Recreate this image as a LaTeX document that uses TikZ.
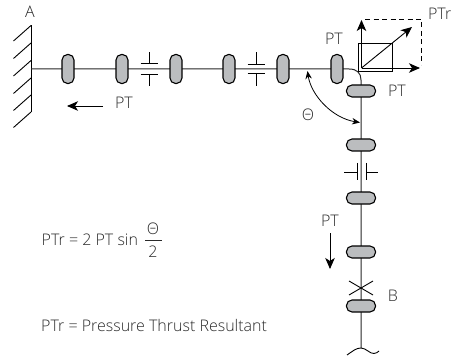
\documentclass[tikz,border=0pt]{standalone}
\usepackage{fontspec}
\setmainfont{Open Sans Light}
\usetikzlibrary{arrows.meta}
\definecolor{padgray}{HTML}{BBBDBF}
\definecolor{txt}{HTML}{2A2A2A}
\tikzset{
  hpad/.style={draw=black,line width=1.1pt,fill=padgray,rounded corners=5.5pt,minimum width=12pt,minimum height=29pt,inner sep=0pt},
  vpad/.style={draw=black,line width=1.1pt,fill=padgray,rounded corners=5.5pt,minimum width=29pt,minimum height=12pt,inner sep=0pt},
  pipe/.style={line width=1pt,black!85},
  thin line/.style={line width=0.9pt,black},
  arr/.style={line width=0.9pt,-{Stealth[length=11pt,width=9.5pt,inset=3pt]}},
  arrs/.style={line width=0.8pt,{Stealth[length=8pt,width=6.5pt]}-{Stealth[length=8pt,width=6.5pt]}},
  lbl/.style={font=\fontsize{16}{18}\selectfont,text=txt,inner sep=0pt},
  lblw/.style={lbl,anchor=west},
}
\begin{document}
\begin{tikzpicture}[x=1pt,y=-1pt]
\useasboundingbox (0,0) rectangle (452,358);
% wall
\coordinate (wtop) at (31,25.5);
\coordinate (wbot) at (31,112);
\coordinate (wm) at (31,69);
\draw[thin line] (wtop) -- (wbot);
\foreach \y in {25.5,43,60.5,78,95,112}{\draw[thin line] (31,\y) -- ++(-17.5,15.5);}
% pipe nodes
\coordinate (bend) at (361,69);
\coordinate (end) at (361,348);
\draw[pipe] (wm) -- (349,69) .. controls (357,69) and (361,73) .. (361,80) -- (end);
\foreach \n/\x in {a/68,b/122,c/176,d/229,e/283,f/337}{\node[hpad] (\n) at (\x,69) {};}
\foreach \n/\y in {g/91,h/145,i/198,j/252,k/306}{\node[vpad] (\n) at (361,\y) {};}
% flanges
\foreach \x/\t/\u in {149/63/74,256/64/73}{
  \draw[thin line] (\x-8.5,\t) -- (\x+8.5,\t) (\x,\t) -- (\x,52);
  \draw[thin line] (\x-8.5,\u) -- (\x+8.5,\u) (\x,\u) -- (\x,86);
}
\draw[thin line] (357,163) -- (357,180) (357,172) -- (344,172);
\draw[thin line] (366,163) -- (366,180) (366,172) -- (378,172);
% valve cross
\draw[thin line] (349,281) -- (373,295) (349,295) -- (373,281);
% break
\draw[thin line] (347,355) .. controls (353,351) and (356,348) .. (361,348) .. controls (366,348) and (370,354) .. (374,353.5) .. controls (376,353.5) and (378,352) .. (379,351);
% resultant box
\coordinate (o) at (361.5,68);
\coordinate (ou) at (361.5,20);
\coordinate (or) at (420,68);
\coordinate (od) at (412,27);
\draw[thin line] (358.5,43) rectangle (392.5,71);
\draw[arr] (o) -- (ou);
\draw[arr] (o) -- (or);
\draw[arr] (o) -- (od);
\draw[thin line,dash pattern=on 5pt off 3.5pt] (365,19) -- (421,19) -- (421,65);
% thrust arrows
\coordinate (l1) at (103,106);
\coordinate (l2) at (67,106);
\draw[arr] (l1) -- (l2);
\coordinate (d1) at (330,233);
\coordinate (d2) at (330,269);
\draw[arr] (d1) -- (d2);
% angle arc
\coordinate (th1) at (307.5,71);
\coordinate (th2) at (360,122.5);
\draw[arrs] (th1) .. controls (311,95) and (332,118) .. (th2);
% labels
\node[lbl] (la) at (30,12) {A};
\node[lbl] (lb) at (393,296) {B};
\node[lbl,anchor=east] (lptr) at (451.5,14) {PTr};
\node[lbl] (lp1) at (124,103) {PT};
\node[lbl] (lp2) at (334,38.5) {PT};
\node[lbl] (lp3) at (397,91) {PT};
\node[lbl] (lp4) at (330,221) {PT};
\node[lbl] (lth) at (308,115) {Θ};
\node[lblw] (eq) at (41.5,240) {PTr = 2 PT sin};
\node[lbl] (num) at (153,229) {Θ};
\node[lbl] (den) at (153,252) {2};
\draw[line width=0.7pt,txt] (145,240) -- (162,240);
\node[lblw] (def) at (41,325) {PTr = Pressure Thrust Resultant};
\end{tikzpicture}
\end{document}
